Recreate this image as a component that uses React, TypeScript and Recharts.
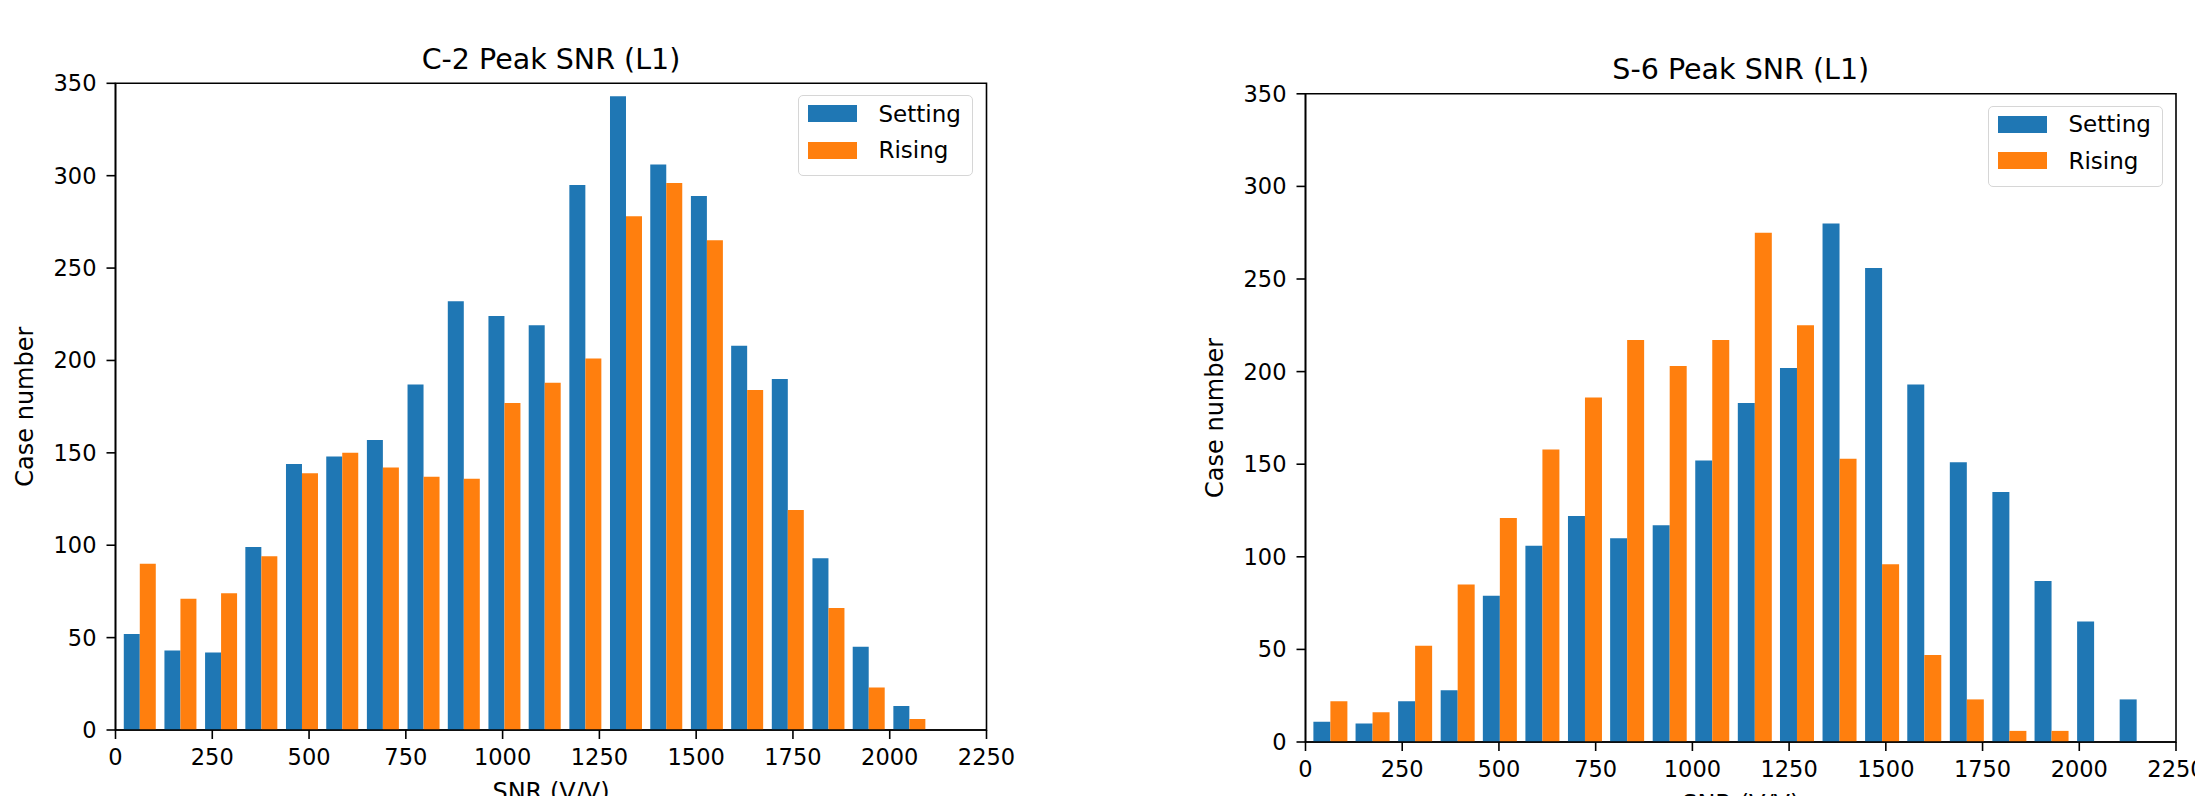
import React from "react";
import { BarChart, Bar, XAxis, YAxis, Legend, ReferenceArea } from "recharts";

const FONT = "DejaVu Sans";
const SETTING_COLOR = "#1f77b4";
const RISING_COLOR = "#ff7f0e";

const xTicks = [0, 250, 500, 750, 1000, 1250, 1500, 1750, 2000, 2250];
const yTicks = [0, 50, 100, 150, 200, 250, 300, 350];
const legendOrder = ["Setting", "Rising"];

// C-2: histogram bin centres (V/V) and case counts
const c2BinCenters = [63, 168, 273, 377, 482, 586, 691, 796, 900, 1005, 1109, 1214, 1319, 1423, 1528, 1632, 1737, 1842, 1946, 2051];
const c2Setting = [52, 43, 42, 99, 144, 148, 157, 187, 232, 224, 219, 295, 343, 306, 289, 208, 190, 93, 45, 13];
const c2Rising = [90, 71, 74, 94, 139, 150, 142, 137, 136, 177, 188, 201, 278, 296, 265, 184, 119, 66, 23, 6];

// S-6
const s6BinCenters = [64, 173, 283, 393, 502, 612, 722, 831, 941, 1051, 1161, 1270, 1380, 1490, 1599, 1709, 1819, 1928, 2038, 2148];
const s6Setting = [11, 10, 22, 28, 79, 106, 122, 110, 117, 152, 183, 202, 280, 256, 193, 151, 135, 87, 65, 23];
const s6Rising = [22, 16, 52, 85, 121, 158, 186, 217, 203, 217, 275, 225, 153, 96, 47, 23, 6, 6, 0, 0];

function toRows(centers: number[], setting: number[], rising: number[]) {
  return centers.map((snr, i) => ({ snr, setting: setting[i], rising: rising[i] }));
}

const tickStyle = { fill: "#000", fontSize: 22.5, fontFamily: FONT };
const lineStyle = { stroke: "#000", strokeWidth: 1.6 };

function LegendBox({ payload }: any) {
  // keep the plotting order (recharts sorts legend items by name)
  const items = legendOrder
    .map((name) => (payload || []).find((p: any) => p.value === name))
    .filter(Boolean);
  return (
    <div
      style={{
        position: "relative",
        width: 175,
        height: 81,
        boxSizing: "border-box",
        border: "1.6px solid #d6d6d6",
        borderRadius: 5,
        background: "rgba(255,255,255,0.8)",
        fontFamily: FONT,
        fontSize: 23,
        color: "#000",
      }}
    >
      {items.map((item: any, i: number) => {
        const top = 9 + i * 36.6;
        return (
          <React.Fragment key={item.value}>
            <div
              style={{
                position: "absolute",
                left: 8.5,
                top,
                width: 49,
                height: 17,
                background: item.color,
              }}
            />
            <div
              style={{
                position: "absolute",
                left: 79.5,
                top: top + 8.5 - 14,
                height: 28,
                lineHeight: "28px",
                whiteSpace: "nowrap",
              }}
            >
              {item.value}
            </div>
          </React.Fragment>
        );
      })}
    </div>
  );
}

interface HistProps {
  title: string;
  rows: Array<{ snr: number; setting: number; rising: number }>;
  width: number;
  height: number;
  margin: { top: number; right: number; bottom: number; left: number };
  legendLeft: number;
  legendTop: number;
}

function PeakHistogram({ title, rows, width, height, margin, legendLeft, legendTop }: HistProps) {
  return (
    <BarChart
      width={width}
      height={height}
      data={rows}
      margin={margin}
      barCategoryGap="10%"
      barGap={0}
    >
      <XAxis
        dataKey="snr"
        type="number"
        domain={[0, 2250]}
        ticks={xTicks}
        interval={0}
        allowDataOverflow
        height={40}
        tick={tickStyle}
        tickLine={lineStyle}
        axisLine={lineStyle}
        tickSize={9}
        tickMargin={10}
        label={{
          content: ({ viewBox }: any) => (
            <text
              x={viewBox.x + viewBox.width / 2}
              y={viewBox.y + 70}
              textAnchor="middle"
              fontFamily={FONT}
              fontSize={24}
              fill="#000"
            >
              SNR (V/V)
            </text>
          ),
        }}
      />
      <YAxis
        type="number"
        domain={[0, 350]}
        ticks={yTicks}
        interval={0}
        width={100}
        tick={tickStyle}
        tickLine={lineStyle}
        axisLine={lineStyle}
        tickSize={9}
        tickMargin={10}
        label={{
          content: ({ viewBox }: any) => {
            const x = viewBox.x + viewBox.width - 90;
            const y = viewBox.y + viewBox.height / 2;
            return (
              <text
                x={x}
                y={y}
                transform={`rotate(-90, ${x}, ${y})`}
                textAnchor="middle"
                dominantBaseline="central"
                fontFamily={FONT}
                fontSize={24}
                fill="#000"
              >
                Case number
              </text>
            );
          },
        }}
      />
      <ReferenceArea
        x1={0}
        x2={2250}
        y1={0}
        y2={350}
        fill="none"
        fillOpacity={0}
        stroke="#000"
        strokeWidth={1.6}
        label={{
          content: ({ viewBox }: any) => (
            <text
              x={viewBox.x + viewBox.width / 2}
              y={viewBox.y - 14.5}
              textAnchor="middle"
              fontFamily={FONT}
              fontSize={28.5}
              fill="#000"
            >
              {title}
            </text>
          ),
        }}
      />
      <Bar dataKey="setting" name="Setting" fill={SETTING_COLOR} isAnimationActive={false} />
      <Bar dataKey="rising" name="Rising" fill={RISING_COLOR} isAnimationActive={false} />
      <Legend
        layout="vertical"
        align="center"
        verticalAlign="middle"
        content={<LegendBox />}
        wrapperStyle={{ left: legendLeft, top: legendTop, width: 175, height: 81 }}
      />
    </BarChart>
  );
}

export default function App() {
  return (
    <div
      style={{
        position: "absolute",
        left: 0,
        top: 0,
        width: 2195,
        height: 796,
        background: "#fff",
        overflow: "hidden",
      }}
    >
      <div style={{ position: "absolute", left: 0, top: 0 }}>
        <PeakHistogram
          title="C-2 Peak SNR (L1)"
          rows={toRows(c2BinCenters, c2Setting, c2Rising)}
          width={1150}
          height={796}
          margin={{ top: 83.3, right: 163.5, bottom: 26, left: 15.5 }}
          legendLeft={798}
          legendTop={95}
        />
      </div>
      <div style={{ position: "absolute", left: 1150, top: 0 }}>
        <PeakHistogram
          title="S-6 Peak SNR (L1)"
          rows={toRows(s6BinCenters, s6Setting, s6Rising)}
          width={1045}
          height={796}
          margin={{ top: 93.8, right: 19, bottom: 14, left: 55.5 }}
          legendLeft={838}
          legendTop={105.7}
        />
      </div>
    </div>
  );
}
